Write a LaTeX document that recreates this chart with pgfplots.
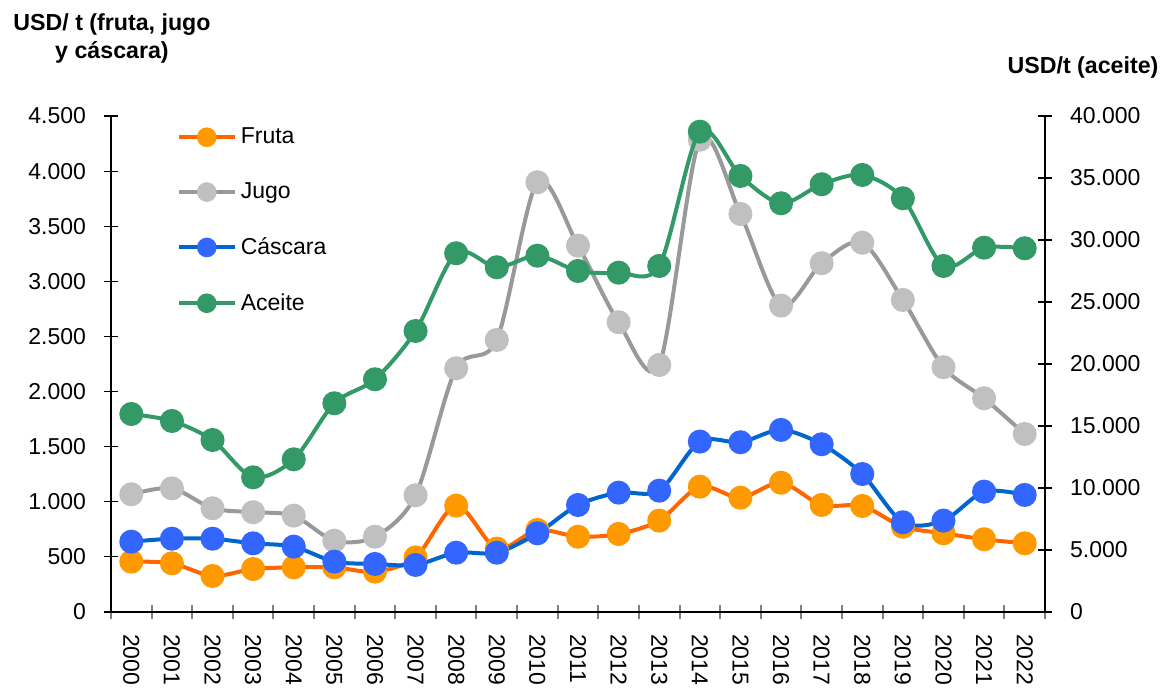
\documentclass[border=0pt]{standalone}
\usepackage{pgfplots}
\pgfplotsset{compat=1.18}
\usepackage{fontspec}
\setmainfont{Liberation Sans}
\definecolor{frutaL}{HTML}{FF6600}
\definecolor{frutaM}{HTML}{FF9900}
\definecolor{jugoL}{HTML}{999999}
\definecolor{jugoM}{HTML}{C0C0C0}
\definecolor{cascL}{HTML}{0066CC}
\definecolor{cascM}{HTML}{3366FF}
\definecolor{aceL}{HTML}{339966}
\begin{document}
\begin{tikzpicture}
\pgfplotsset{
  common/.style={
    width=467pt, height=248pt, scale only axis,
    at={(0,0)}, anchor=south west,
    xmin=-0.5, xmax=22.5,
    tick align=center, major tick length=7pt, minor tick length=7pt,
    ticklabel style={font=\fontsize{11.5}{13}\selectfont},
    /pgf/number format/assume math mode=true,
    /pgf/number format/1000 sep={.},
    scaled y ticks=false,
    axis line style={black, line width=0.6pt},
    every tick/.style={black, line width=0.6pt},
  },
  ser/.style={line width=2pt, smooth, tension=0.5, mark=*, mark size=5pt},
  fruta/.style={ser, color=frutaL, mark options={fill=frutaM, draw=frutaM, solid}},
  jugo/.style={ser, color=jugoL, mark options={fill=jugoM, draw=jugoM, solid}},
  casc/.style={ser, color=cascL, mark options={fill=cascM, draw=cascM, solid}},
  acei/.style={ser, color=aceL, mark options={fill=aceL, draw=aceL, solid}},
}
\begin{axis}[common,
  axis x line*=bottom, axis y line*=left,
  ymin=0, ymax=4500, ytick={0,500,...,4500},
  xtick={0,...,22},
  xticklabels={2000,2001,2002,2003,2004,2005,2006,2007,2008,2009,2010,2011,2012,2013,2014,2015,2016,2017,2018,2019,2020,2021,2022},
  major x tick style={draw=none},
  minor xtick={-0.5,0.5,...,22.5},
  minor x tick style={draw=gray, line width=1pt},
  xticklabel style={yshift=-4pt, rotate=-90, anchor=west},
  yticklabel style={xshift=-5.5pt},
]
\addplot[jugo] coordinates {(0,1068)(1,1122)(2,941)(3,905)(4,874)(5,647)(6,683)(7,1059)(8,2211)(9,2468)(10,3899)(11,3324)(12,2629)(13,2241)(14,4285)(15,3611)(16,2780)(17,3164)(18,3351)(19,2831)(20,2221)(21,1939)(22,1615)};
\addplot[fruta] coordinates {(0,457)(1,442)(2,327)(3,390)(4,405)(5,405)(6,366)(7,495)(8,965)(9,575)(10,744)(11,683)(12,708)(13,829)(14,1137)(15,1037)(16,1173)(17,971)(18,962)(19,774)(20,714)(21,660)(22,623)};
\addplot[casc] coordinates {(0,638)(1,665)(2,665)(3,623)(4,593)(5,457)(6,436)(7,427)(8,538)(9,538)(10,714)(11,971)(12,1083)(13,1101)(14,1546)(15,1540)(16,1652)(17,1522)(18,1252)(19,814)(20,829)(21,1092)(22,1062)};
\end{axis}
\begin{axis}[common,
  axis x line=none, axis y line*=right,
  ymin=0, ymax=40000, ytick={0,5000,...,40000},
  yticklabel style={xshift=5.5pt},
  legend style={at={(0.07,0.985)}, anchor=north west, draw=none, fill=none,
    font=\fontsize{11.5}{13}\selectfont, row sep=14pt, inner sep=0pt},
  legend cell align=left,
  legend image code/.code={\draw[mark repeat=2,mark phase=2,every mark/.append style={scale=0.78}] plot coordinates {(0pt,0pt)(14pt,0pt)(28pt,0pt)};},
]
\addlegendimage{fruta}
\addlegendentry{Fruta}
\addlegendimage{jugo}
\addlegendentry{Jugo}
\addlegendimage{casc}
\addlegendentry{Cáscara}
\addplot[acei] coordinates {(0,15968)(1,15404)(2,13871)(3,10860)(4,12312)(5,16832)(6,18767)(7,22662)(8,28929)(9,27800)(10,28736)(11,27501)(12,27366)(13,27904)(14,38735)(15,35163)(16,32960)(17,34494)(18,35244)(19,33364)(20,27904)(21,29380)(22,29332)};
\addlegendentry{Aceite}
\end{axis}
\node[anchor=base, font=\bfseries\fontsize{11.6}{13}\selectfont] at (0.5pt,290.7pt) {USD/ t (fruta, jugo};
\node[anchor=base, font=\bfseries\fontsize{11.6}{13}\selectfont] at (0.5pt,276.8pt) {y cáscara)};
\node[anchor=base, font=\bfseries\fontsize{11.6}{13}\selectfont] at (486pt,269.3pt) {USD/t (aceite)};
\pgfresetboundingbox
\path (-55.5pt,-38.5pt) rectangle (527.5pt,306pt);
\end{tikzpicture}
\end{document}
